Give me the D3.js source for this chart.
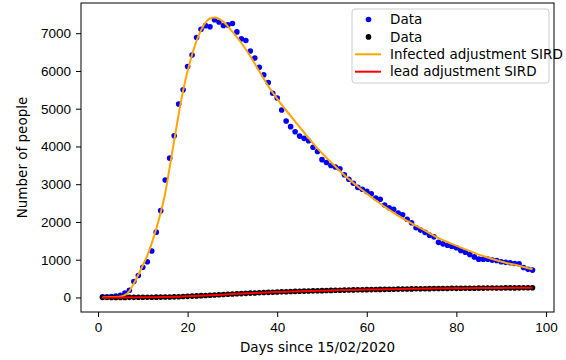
<!DOCTYPE html>
<html lang="en">
<head>
    <meta charset="UTF-8">
    <title>SIRD adjustment</title>
    <script src="https://d3js.org/d3.v7.min.js"></script>
    <style>
        body { margin: 0; background: #fff; }
        svg { display: block; font-family: "DejaVu Sans", sans-serif; }
        .axis text { font-size: 13.5px; fill: #000; }
        .axis path, .axis line { stroke: #000; stroke-width: 1; }
    </style>
</head>
<body>
    <svg width="566" height="360"></svg>
    <script>
        // days since 15/02/2020 (1..97)
        const days = d3.range(1, 98);

        // infected, observed
        const infectedData = [
            20, 20, 25, 35, 60, 120, 190, 420, 580, 800,
            945, 1230, 1730, 2300, 3110, 3690, 4285, 5125, 5500, 6115,
            6420, 6885, 7105, 7200, 7170, 7355, 7295, 7205, 7220, 7255,
            7035, 6850, 6805, 6530, 6340, 6100, 5900, 5695, 5410, 5285,
            4965, 4675, 4525, 4390, 4275, 4215, 4150, 3980, 3865, 3650,
            3575, 3495, 3455, 3410, 3250, 3130, 3025, 2915, 2865, 2810,
            2745, 2635, 2600, 2450, 2375, 2335, 2235, 2190, 2070, 1980,
            1845, 1785, 1725, 1650, 1605, 1460, 1420, 1385, 1350, 1315,
            1245, 1200, 1140, 1075, 1015, 1015, 1015, 990, 980, 945,
            930, 920, 900, 890, 795, 745, 725
        ];

        // dead, observed
        const deadData = [
            0, 0, 1, 1, 2, 2, 3, 3, 4, 5,
            6, 7, 8, 9, 11, 13, 16, 20, 25, 30,
            36, 42, 48, 54, 60, 66, 72, 78, 85, 91,
            97, 103, 109, 115, 120, 125, 130, 135, 140, 145,
            149, 153, 157, 161, 165, 168, 172, 175, 178, 181,
            184, 187, 190, 193, 195, 198, 200, 203, 205, 207,
            209, 211, 213, 215, 217, 219, 221, 223, 225, 227,
            229, 231, 232, 234, 235, 237, 238, 239, 241, 242,
            243, 244, 245, 246, 247, 248, 249, 250, 251, 252,
            253, 254, 254, 255, 256, 257, 258
        ];

        // SIRD fit, infected
        const fitInfDays = [1, 2, 3, 4, 5, 6, 7, 8, 9, 10, 11, 12, 13, 14, 15, 16, 17, 18, 19, 20,
            21, 22, 23, 24, 25, 26, 27, 28, 29, 30, 32, 34, 36, 38, 40, 43, 46, 49, 52, 55,
            58, 61, 64, 67, 70, 73, 76, 79, 82, 85, 88, 91, 94, 97];
        const fitInfValues = [5, 7, 10, 15, 25, 60, 170, 370, 600, 850, 1110, 1440, 1820, 2250, 2760, 3450, 4150, 4850, 5480, 6000,
            6430, 6800, 7080, 7280, 7390, 7415, 7380, 7300, 7180, 7040, 6740, 6390, 5990, 5600, 5260, 4810, 4370, 3950, 3580, 3240,
            2940, 2660, 2400, 2170, 1960, 1770, 1570, 1420, 1275, 1135, 1020, 920, 840, 745];

        // SIRD fit, dead
        const fitDeadDays = [1, 5, 10, 15, 20, 25, 30, 35, 40, 45, 50, 55, 60, 65, 70, 75, 80, 85, 90, 97];
        const fitDeadValues = [0, 2, 6, 12, 30, 58, 90, 120, 145, 165, 181, 196, 208, 218, 228, 236, 243, 248, 253, 258];

        const legendLabels = ["Data", "Data", "Infected adjustment SIRD", "lead adjustment SIRD"];
        const xTicks = [0, 20, 40, 60, 80, 100];
        const yTicks = [0, 1000, 2000, 3000, 4000, 5000, 6000, 7000];

        const svg = d3.select("svg");
        const plotL = 81, plotR = 554, plotT = 3, plotB = 312;

        const x = d3.scaleLinear().domain([-3.8, 101.8]).range([plotL, plotR]);
        const y = d3.scaleLinear().domain([-385, 7800]).range([plotB, plotT]);

        // observed points
        svg.append("g").selectAll("circle")
            .data(days.map((d, i) => [d, infectedData[i]]))
            .enter().append("circle")
            .attr("cx", d => x(d[0]))
            .attr("cy", d => y(d[1]))
            .attr("r", 2.8)
            .attr("fill", "blue");

        svg.append("g").selectAll("circle")
            .data(days.map((d, i) => [d, deadData[i]]))
            .enter().append("circle")
            .attr("cx", d => x(d[0]))
            .attr("cy", d => y(d[1]))
            .attr("r", 2.8)
            .attr("fill", "black");

        const line = d3.line()
            .x(d => x(d[0]))
            .y(d => y(d[1]))
            .curve(d3.curveMonotoneX);

        svg.append("path")
            .datum(fitInfDays.map((d, i) => [d, fitInfValues[i]]))
            .attr("d", line)
            .attr("fill", "none")
            .attr("stroke", "orange")
            .attr("stroke-width", 2);

        svg.append("path")
            .datum(fitDeadDays.map((d, i) => [d, fitDeadValues[i]]))
            .attr("d", line)
            .attr("fill", "none")
            .attr("stroke", "red")
            .attr("stroke-width", 2);

        // axes
        svg.append("g")
            .attr("class", "axis")
            .attr("transform", `translate(0,${plotB})`)
            .call(d3.axisBottom(x).tickValues(xTicks).tickFormat(d3.format("d"))
                .tickSize(5).tickPadding(5).tickSizeOuter(0))
            .call(g => g.select(".domain").remove());

        svg.append("g")
            .attr("class", "axis")
            .attr("transform", `translate(${plotL},0)`)
            .call(d3.axisLeft(y).tickValues(yTicks).tickFormat(d3.format("d"))
                .tickSize(5).tickPadding(5).tickSizeOuter(0))
            .call(g => g.select(".domain").remove());

        svg.append("rect")
            .attr("x", plotL).attr("y", plotT)
            .attr("width", plotR - plotL).attr("height", plotB - plotT)
            .attr("fill", "none").attr("stroke", "#000").attr("stroke-width", 1);

        svg.append("text")
            .attr("x", (plotL + plotR) / 2).attr("y", 352)
            .attr("text-anchor", "middle")
            .style("font-size", "13.5px")
            .text("Days since 15/02/2020");

        svg.append("text")
            .attr("transform", `translate(27,${(plotT + plotB) / 2}) rotate(-90)`)
            .attr("text-anchor", "middle")
            .style("font-size", "13.5px")
            .text("Number of people");

        // legend
        const lg = svg.append("g").attr("transform", "translate(352,9)");
        lg.append("rect")
            .attr("width", 197).attr("height", 74).attr("rx", 3)
            .attr("fill", "#fff").attr("fill-opacity", 0.8)
            .attr("stroke", "#ccc").attr("stroke-width", 1);

        const items = lg.selectAll("g.item")
            .data(legendLabels)
            .enter().append("g")
            .attr("transform", (d, i) => `translate(0,${10.5 + i * 17.4})`);

        items.each(function(d, i) {
            const g = d3.select(this);
            if (i < 2) {
                g.append("circle").attr("cx", 16.5).attr("r", 2.8)
                    .attr("fill", i === 0 ? "blue" : "black");
            } else {
                g.append("line").attr("x1", 3).attr("x2", 29)
                    .attr("stroke", i === 2 ? "orange" : "red").attr("stroke-width", 2);
            }
            g.append("text").attr("x", 38).attr("dy", "0.35em")
                .style("font-size", "13.5px").text(d);
        });
    </script>
</body>
</html>
